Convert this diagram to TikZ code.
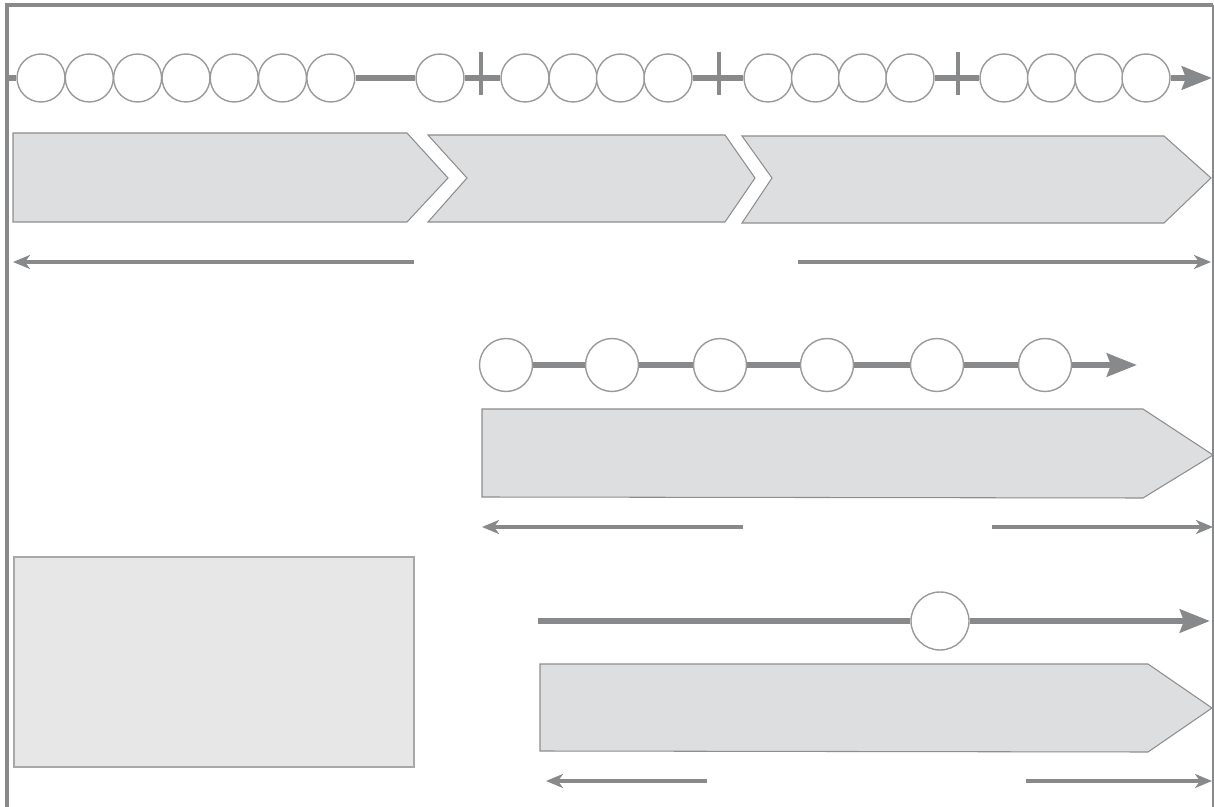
\documentclass[tikz,border=0pt]{standalone}
\usetikzlibrary{arrows.meta, positioning}
\definecolor{linegray}{HTML}{88898B}
\definecolor{circgray}{HTML}{9A9A9A}
\definecolor{boxfill}{HTML}{DDDEE0}
\definecolor{boxdraw}{HTML}{8E8E8E}
\definecolor{panelfill}{HTML}{E7E7E7}
\definecolor{paneldraw}{HTML}{A8A8A8}

\begin{document}
\begin{tikzpicture}[
					x=0.02cm, y=-0.02cm,
					dot/.style={draw=circgray, fill=white, circle, inner sep=0pt, line width=0.8pt},
					spine/.style={line width=3.4pt, draw=linegray},
					tickmark/.style={line width=2.1pt, draw=linegray},
					span/.style={line width=1.8pt, draw=linegray},
					chevron/.style={fill=boxfill, draw=boxdraw, line width=0.6pt},
					bighead/.style={-{Stealth[length=0.6cm, width=0.46cm, inset=0.08cm]}},
					smallhead/.style={-{Stealth[length=0.34cm, width=0.28cm, inset=0.1cm]}}]
				\useasboundingbox (0,0) rectangle (1214,807);
				\draw[line width=1.9pt, draw=linegray] (7,807) -- (7,5) -- (1213,5);
				\draw[line width=0.6pt, draw=linegray] (1213,5) -- (1213,807);
				% top row
				\foreach \n/\x in {1/41, 2/89.3, 3/137.6, 4/186, 5/234.2, 6/282.5, 7/330.8, 8/440,
					9/525, 10/573, 11/620.5, 12/668, 13/768, 14/815.5, 15/862.5, 16/910,
					17/1004, 18/1051.5, 19/1099, 20/1146}
					\node[dot, minimum size=0.96cm] (t\n) at (\x,78) {};
				\coordinate (tstart) at (7,78);
				\coordinate (tend)   at (1212,78);
				\foreach \from/\to in {tstart/t1, t7/t8, t8/t9, t12/t13, t16/t17}
					\draw[spine] (\from) -- (\to);
				\draw[spine, bighead] (t20) -- (tend);
				\foreach \x in {481, 719, 958}
					\draw[tickmark] (\x,52) -- (\x,95);
				\draw[chevron] (13,133) -- (407,133) -- (448,178) -- (407,222) -- (13,222) -- cycle;
				\draw[chevron] (428,135) -- (725,135) -- (755,178) -- (725,222) -- (428,222) -- (467,178) -- cycle;
				\draw[chevron] (742,136) -- (1164,136) -- (1211,178) -- (1164,223) -- (742,223) -- (772,178) -- cycle;
				\draw[span, smallhead] (414,262) -- (13,262);
				\draw[span, smallhead] (798,262) -- (1211,262);
				% middle row
				\foreach \n/\x in {1/506, 2/612, 3/720, 4/827, 5/937, 6/1045}
					\node[dot, minimum size=1.06cm] (m\n) at (\x,365) {};
				\coordinate (mend) at (1137,365);
				\foreach \from/\to in {m1/m2, m2/m3, m3/m4, m4/m5, m5/m6}
					\draw[spine] (\from) -- (\to);
				\draw[spine, bighead] (m6) -- (mend);
				\draw[chevron] (482,409) -- (1143,409) -- (1213,455) -- (1143,498) -- (482,497) -- cycle;
				\draw[span, smallhead] (743,527) -- (482,527);
				\draw[span, smallhead] (992,527) -- (1213,527);
				% bottom row
				\draw[fill=panelfill, draw=paneldraw, line width=0.6pt] (14,557) rectangle (414,767);
				\node[dot, minimum size=1.16cm] (b1) at (940,621) {};
				\coordinate (bstart) at (538,621);
				\coordinate (bend)   at (1210,621);
				\draw[spine] (bstart) -- (b1);
				\draw[spine, bighead] (b1) -- (bend);
				\draw[chevron] (540,664) -- (1148,664) -- (1212,708) -- (1148,752) -- (540,751) -- cycle;
				\draw[span, smallhead] (707,781) -- (546,781);
				\draw[span, smallhead] (1026,781) -- (1212,781);
			\end{tikzpicture}
\end{document}
